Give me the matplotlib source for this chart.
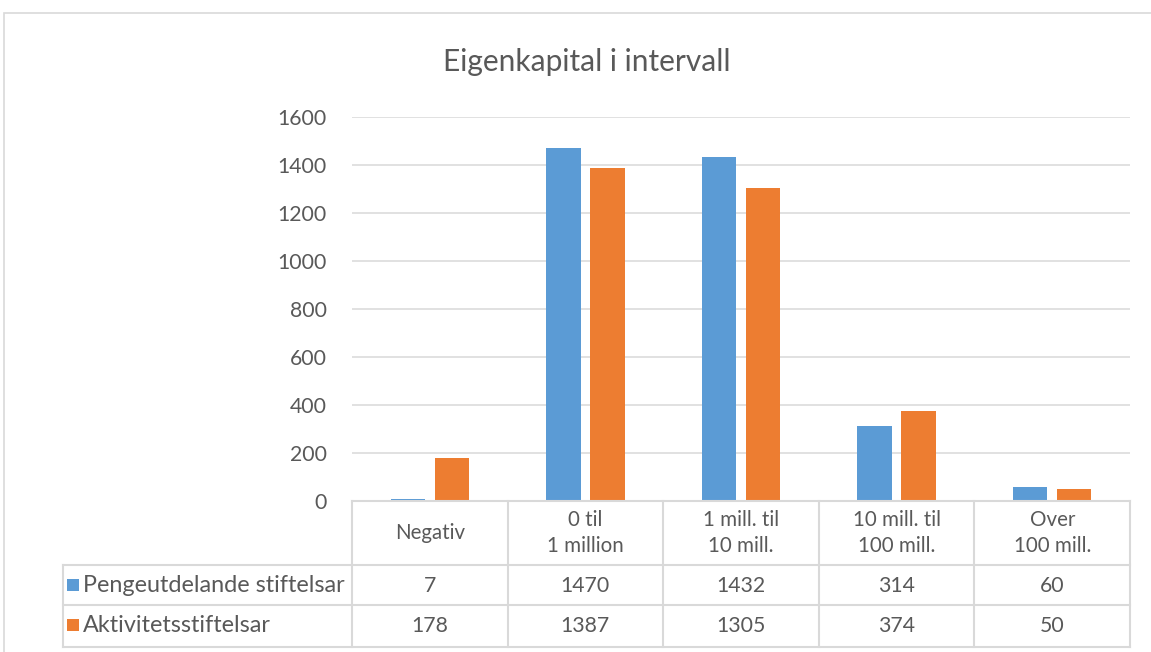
import matplotlib
matplotlib.use("Agg")
import matplotlib.pyplot as plt
from matplotlib.lines import Line2D
from matplotlib.patches import Rectangle
from matplotlib.transforms import blended_transform_factory
import numpy as np

title = "Eigenkapital i intervall"
categories = ["Negativ", "0 til\n1 million", "1 mill. til\n10 mill.", "10 mill. til\n100 mill.", "Over\n100 mill."]
series_names = ["Pengeutdelande stiftelsar", "Aktivitetsstiftelsar"]
pengeutdelande = [7, 1470, 1432, 314, 60]
aktivitet = [178, 1387, 1305, 374, 50]
yticks = [0, 200, 400, 600, 800, 1000, 1200, 1400, 1600]

colors = ["#5B9BD5", "#ED7D31"]
txt = "#595959"
grid = "#d9d9d9"
FONT = "Lato"
plt.rcParams["font.family"] = [FONT, "DejaVu Sans"]

W, H = 1151, 652
fig = plt.figure(figsize=(W / 100, H / 100), dpi=100)

def fx(px):
    return px / W

def fy(py):
    return 1 - py / H

# plot area
ax_l, ax_r, ax_t, ax_b = 352, 1130, 117, 501
ax = fig.add_axes([fx(ax_l), fy(ax_b), fx(ax_r - ax_l), (ax_b - ax_t) / H])
n = len(categories)
x = np.arange(n)
bw = 0.222
off = 0.1414
ax.bar(x - off, pengeutdelande, bw, color=colors[0], zorder=3)
ax.bar(x + off, aktivitet, bw, color=colors[1], zorder=3)
ax.set_xlim(-0.5, n - 0.5)
ax.set_ylim(0, 1600)
ax.set_yticks(yticks)
ax.set_yticklabels([str(v) for v in yticks], color=txt, fontsize=15.3)
ax.tick_params(axis="y", length=0, pad=18)
ax.set_xticks([])
for s in ax.spines.values():
    s.set_visible(False)
ax.grid(axis="y", color=grid, lw=1.1, zorder=0)
ax.set_axisbelow(True)

# outer chart frame
fig.add_artist(Rectangle((fx(4), fy(700)), fx(1200), (700 - 13) / H,
                         transform=fig.transFigure, fill=False, ec=grid, lw=1.2))

# title
fig.text(fx(587), fy(62), title, ha="center", va="center", fontsize=21.5, color=txt)

# data table
bt = blended_transform_factory(ax.transData, fig.transFigure)
lw = 1.5
row_tops = [501, 565, 605, 647]
fig.add_artist(Line2D([fx(ax_l), fx(ax_r)], [fy(501), fy(501)], transform=fig.transFigure, color=grid, lw=lw))
for py in row_tops[1:]:
    fig.add_artist(Line2D([fx(63), fx(ax_r)], [fy(py), fy(py)], transform=fig.transFigure, color=grid, lw=lw))
for i in range(n + 1):
    fig.add_artist(Line2D([i - 0.5, i - 0.5], [fy(501), fy(647)], transform=bt, color=grid, lw=lw))
fig.add_artist(Line2D([fx(63), fx(63)], [fy(565), fy(647)], transform=fig.transFigure, color=grid, lw=lw))

# header labels
for i, c in enumerate(categories):
    fig.text(i, fy(533), c, transform=bt, ha="center", va="center", fontsize=14.8,
             color=txt, linespacing=1.4)

rows = [pengeutdelande, aktivitet]
row_centers = [586, 626]
for r, (name, vals, cy) in enumerate(zip(series_names, rows, row_centers)):
    fig.add_artist(Rectangle((fx(67), fy(cy + 5)), fx(12), 12 / H, transform=fig.transFigure,
                             color=colors[r], lw=0))
    fig.text(fx(83), fy(cy), name, ha="left", va="center", fontsize=16.8, color=txt)
    for i, v in enumerate(vals):
        fig.text(i, fy(cy), str(v), transform=bt, ha="center", va="center", fontsize=15.3, color=txt)

fig.savefig("out.png", dpi=100, facecolor="white")
